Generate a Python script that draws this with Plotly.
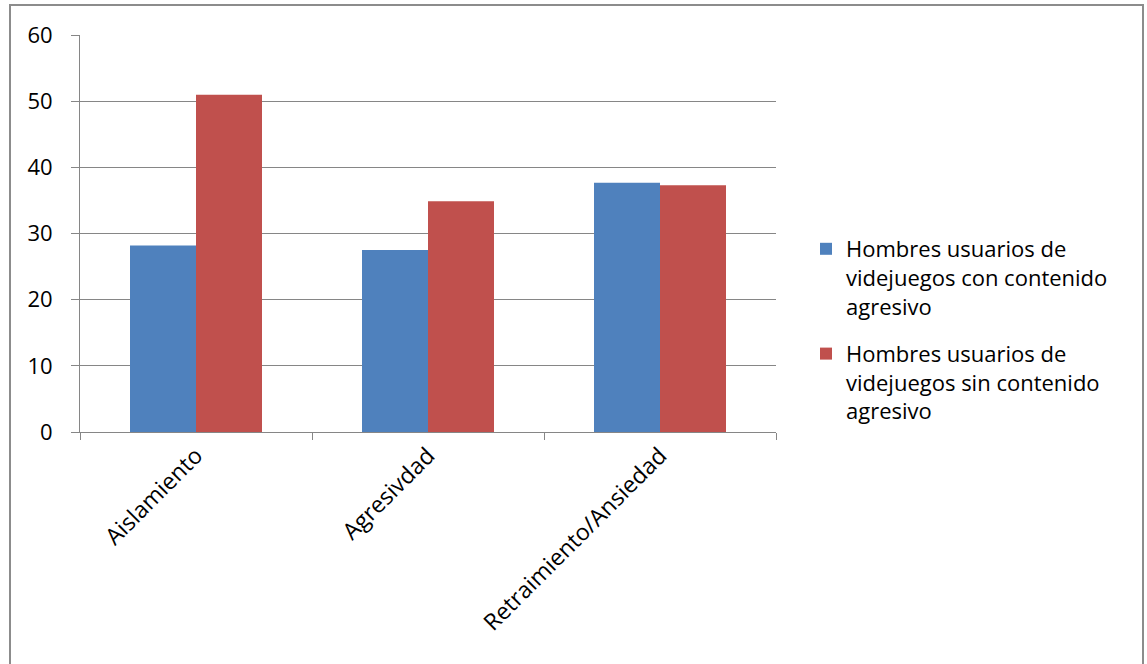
import plotly.graph_objects as go

categories = ["Aislamiento", "Agresivdad", "Retraimiento/Ansiedad"]
series_names = [
    "Hombres usuarios de<br>videjuegos con contenido<br>agresivo",
    "Hombres usuarios de<br>videjuegos sin contenido<br>agresivo",
]
con_agresivo = [28.2, 27.5, 37.7]
sin_agresivo = [51.0, 34.9, 37.3]
colors = ["#4F81BD", "#C0504D"]
y_ticks = [0, 10, 20, 30, 40, 50, 60]

FONT = "Open Sans"
FS = 22

fig = go.Figure()
for i, (name, vals, col) in enumerate(zip(series_names, [con_agresivo, sin_agresivo], colors)):
    fig.add_trace(go.Bar(x=categories, y=vals, name=name, legendgroup=f"g{i}",
                         marker=dict(color=col, line=dict(width=0))))

L, R, T, B = 80, 776, 35, 432
W, H = 1147, 664

def px2x(p):
    return (p - L) / (R - L)

def px2y(p):
    return (B - p) / (B - T)

fig.update_layout(
    width=W, height=H,
    margin=dict(l=L, r=W - R, t=T, b=H - B, pad=0),
    paper_bgcolor="white", plot_bgcolor="white",
    barmode="group", bargap=0.431, bargroupgap=0,
    font=dict(family=FONT, size=FS, color="black"),
    legend=dict(x=px2x(806), y=px2y(228), xanchor="left", yanchor="top",
                font=dict(family=FONT, size=FS, color="black"),
                valign="top", tracegroupgap=16, bgcolor="rgba(0,0,0,0)"),
    shapes=[dict(type="rect", xref="paper", yref="paper",
                 x0=px2x(10), x1=px2x(1143), y0=px2y(672), y1=px2y(5),
                 line=dict(color="#8C8C8C", width=2), layer="below")],
)
fig.update_xaxes(
    type="category", showline=True, linecolor="#868686", linewidth=1,
    ticks="outside", ticklen=7, tickcolor="#868686", tickson="boundaries",
    tickangle=-45, showgrid=False, tickfont=dict(family=FONT, size=23),
)
fig.update_yaxes(
    range=[0, 60.02], tickvals=y_ticks, showline=True, linecolor="#868686",
    linewidth=1, ticks="outside", ticklen=8, tickcolor="#868686",
    showgrid=True, gridcolor="#868686", gridwidth=1, zeroline=False,
    ticklabelstandoff=14, tickfont=dict(family=FONT, size=FS),
)

fig.write_html("out.html")
